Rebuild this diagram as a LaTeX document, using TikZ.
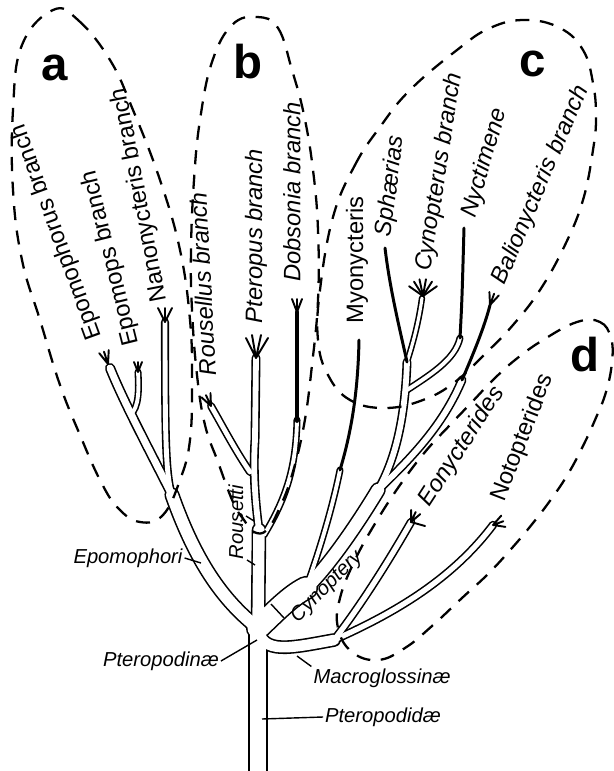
\documentclass[tikz,border=0pt]{standalone}
\usepackage{fontspec}
\setmainfont{Liberation Sans}
\usetikzlibrary{calc}

\tikzstyle{grp} = [line width=1.3pt, dash pattern=on 8pt off 6pt]
\tikzstyle{stalk} = [line width=1.7pt, line cap=round]
\tikzstyle{forkline} = [line width=1.1pt, line cap=round, line join=round]
\tikzstyle{tick} = [line width=0.8pt]
\tikzstyle{branchlbl} = [font=\fontsize{13.5}{14}\selectfont\itshape, inner sep=0pt]
\tikzstyle{branchup} = [font=\fontsize{13.5}{14}\selectfont, inner sep=0pt]
\tikzstyle{taxonlbl} = [font=\fontsize{11.5}{12}\selectfont\itshape, inner sep=1pt]
\tikzstyle{grouplbl} = [font=\fontsize{27}{27}\selectfont\bfseries, inner sep=0pt]
\tikzset{tube/.style={line width=#1+\rim, line cap=round, line join=round}}

\newcommand{\rim}{1.8pt}
\newcommand{\twig}[4]{\draw[forkline, shift={#1}, rotate=#2] (-#3,-#4) -- (0,0) -- (#3,-#4) (0,0) -- (0,-#4);}

% all tubes of the tree, drawn twice (rim, then core)
\newcommand{\tubes}{%
  \draw[tube=9.5pt] (root) -- (fork);
  \draw[tube=6.8pt] (fork) .. controls (222,600) and (195,560) .. (epoB);
  \draw[tube=4pt] (epoB) .. controls (152,455) and (125,405) .. (110,368);
  \draw[tube=2.2pt] (epoC) .. controls (139,408) and (139,390) .. (138,372);
  \draw[tube=2.8pt] (175,505) .. controls (166,480) and (165,460) .. (165,322);
  \draw[tube=6.5pt] (fork) -- (rouB);
  \draw[tube=3.3pt] (rouB) .. controls (255,500) and (253,470) .. (255,440) -- (256,358);
  \draw[tube=2.7pt] (rouC) .. controls (235,450) and (222,425) .. (211,406);
  \draw[tube=2.2pt] (264,535) .. controls (285,500) and (296,470) .. (297,420);
  \draw[tube=12pt] (fork) .. controls (275,612) and (290,596) .. (cynB);
  \draw[tube=7pt] (cynB) .. controls (330,565) and (360,520) .. (cynC);
  \draw[tube=3.3pt] (cynC) .. controls (395,460) and (405,420) .. (cynD);
  \draw[tube=2.2pt] (cynB) .. controls (318,555) and (332,510) .. (340,470);
  \draw[tube=1.8pt] (cynD) .. controls (414,340) and (419,320) .. (422,298);
  \draw[tube=2.2pt] (404,392) .. controls (430,375) and (455,360) .. (460,338);
  \draw[tube=3.3pt] (cynC) .. controls (420,450) and (445,420) .. (462,380);
  \draw[tube=6pt] (fork) .. controls (262,655) and (290,648) .. (macB);
  \draw[tube=3pt] (macB) .. controls (365,600) and (395,550) .. (411,522);
  \draw[tube=3pt] (macB) .. controls (390,615) and (450,582) .. (493,525);
}

\begin{document}
\begin{tikzpicture}[x=0.02cm, y=-0.02cm]
    \useasboundingbox (0,0) rectangle (613,771);

    % Junctions
    \coordinate (root) at (258,790);
    \coordinate (fork) at (258,628);
    \coordinate (epoB) at (172,495);
    \coordinate (epoC) at (130,415);
    \coordinate (rouB) at (259,530);
    \coordinate (rouC) at (250,472);
    \coordinate (cynB) at (306,588);
    \coordinate (cynC) at (378,490);
    \coordinate (cynD) at (407,362);
    \coordinate (macB) at (334,640);

    % Tree
    \begin{scope}[black] \tubes \end{scope}
    \begin{scope}[white] \renewcommand{\rim}{0pt} \tubes \end{scope}

    \draw[stalk, line width=2.2pt] (297,421) -- (297,312);
    \draw[stalk] (340,470) .. controls (352,430) and (358,390) .. (359,340);
    \draw[stalk] (cynD) .. controls (400,330) and (390,290) .. (385,248);
    \draw[stalk] (460,338) .. controls (462,300) .. (464,228);
    \draw[stalk] (462,380) .. controls (475,350) and (485,325) .. (490,305);

    % Tips
    \twig{(108,364)}{18}{5}{13}
    \twig{(138,372)}{0}{4}{10}
    \twig{(165,322)}{0}{7}{14}
    \twig{(211,406)}{25}{5}{12}
    \twig{(297,312)}{0}{5}{13}
    \twig{(490,305)}{-20}{5}{12}
    \twig{(411,522)}{-25}{5}{11}
    \draw[forkline] (411,522) -- (425,526);
    \twig{(493,525)}{-70}{6}{11}
    \draw[forkline] (256,358) -- (246,338) (256,358) -- (252,335)
                    (256,358) -- (261,335) (256,358) -- (268,338);
    \foreach \a in {215,238,258,280,302,325}
        \draw[forkline] (423,296) -- ++(\a:17);

    % Groups
    \draw[grp] plot[smooth cycle, tension=0.7] coordinates {(53,10) (78,20) (110,60) (133,110) (160,180) (180,250) (190,320) (192,380) (190,440) (180,480) (163,515) (140,522) (118,508) (100,480) (80,435) (60,385) (40,320) (22,260) (13,190) (13,110) (22,45)};
    \draw[grp] plot[smooth cycle, tension=0.7] coordinates {(257,17) (278,28) (292,70) (304,115) (313,170) (318,230) (318,300) (312,365) (304,425) (292,475) (280,507) (267,530) (254,532) (244,520) (233,502) (218,462) (205,425) (197,375) (192,310) (191,250) (194,180) (200,120) (212,62) (232,25)};
    \draw[grp] plot[smooth cycle, tension=0.7] coordinates {(333,217) (355,165) (380,127) (410,90) (457,50) (490,28) (525,20) (560,28) (583,50) (593,83) (596,117) (593,150) (583,200) (565,245) (540,290) (513,325) (487,352) (455,382) (423,400) (385,408) (350,400) (328,375) (318,340) (320,290)};
    \draw[grp] plot[smooth cycle, tension=0.7] coordinates {(577,322) (600,322) (611,338) (612,362) (606,392) (595,420) (582,448) (568,474) (552,498) (533,523) (512,548) (488,574) (462,598) (432,626) (405,648) (378,660) (352,652) (338,628) (340,598) (355,560) (376,522) (400,485) (425,452) (450,425) (472,402) (493,380) (515,360) (543,340)};
    \node (ga) [grouplbl] at (55,68) {a};
    \node (gb) [grouplbl] at (248,62) {b};
    \node (gc) [grouplbl] at (533,64) {c};
    \node (gd) [grouplbl] at (585,355) {d};

    % Branch labels
    \node (epomophorus) [branchup, rotate=110] at (57,232) {Epomophorus branch};
    \node (epomops) [branchup, rotate=104] at (111,258) {Epomops branch};
    \node (nanonycteris) [branchup, rotate=101] at (140,195) {Nanonycteris branch};
    \node (rousettus) [branchlbl, rotate=93] at (203,284) {Rousellus branch};
    \node (pteropus) [branchlbl, rotate=90] at (256,236) {Pteropus branch};
    \node (dobsonia) [branchlbl, rotate=90] at (292,192) {Dobsonia branch};
    \node (myonycteris) [branchup, rotate=90] at (357,260) {Myonycteris};
    \node (sphaerias) [branchlbl, rotate=83] at (391,186) {Sphærias};
    \node (cynopterus) [branchlbl, rotate=81] at (440,172) {Cynopterus branch};
    \node (nyctimene) [branchlbl, rotate=74] at (485,163) {Nyctimene};
    \node (balionycteris) [branchlbl, rotate=67] at (541,185) {Balionycteris branch};
    \node (eonycterides) [branchlbl, rotate=57] at (462,447) {Eonycterides};
    \node (notopterides) [branchup, rotate=69] at (523,438) {Notopterides};

    % Taxon labels
    \node (cynopteri) [taxonlbl, rotate=45] at (327,587) {Cynoptery};
    \node (rousetti) [taxonlbl, rotate=90] at (236,522) {Rousetti};
    \node (epomophori) [taxonlbl] at (128,558) {Epomophori};
    \node (pteropodinae) [taxonlbl] at (161,661) {Pteropodinæ};
    \node (macroglossinae) [taxonlbl] at (382,678) {Macroglossinæ};
    \node (pteropodidae) [taxonlbl] at (383,717) {Pteropodidæ};

    % Ticks
    \coordinate (epoT) at (201,563);
    \coordinate (ptnT) at (257,640);
    \coordinate (macT) at (297,656);
    \coordinate (ptdT) at (262,719);
    \draw[tick] (epomophori.east) -- (epoT);
    \draw[tick] (pteropodinae.east) -- (ptnT);
    \draw[tick] (macroglossinae.north west) -- (macT);
    \draw[tick] (pteropodidae.west) -- (ptdT);
    \draw[tick] (246,516) -- (254,521);
    \draw[tick] (247,560) -- (255,565);
    \draw[tick] (271,604) -- (284,618);

\end{tikzpicture}
\end{document}
